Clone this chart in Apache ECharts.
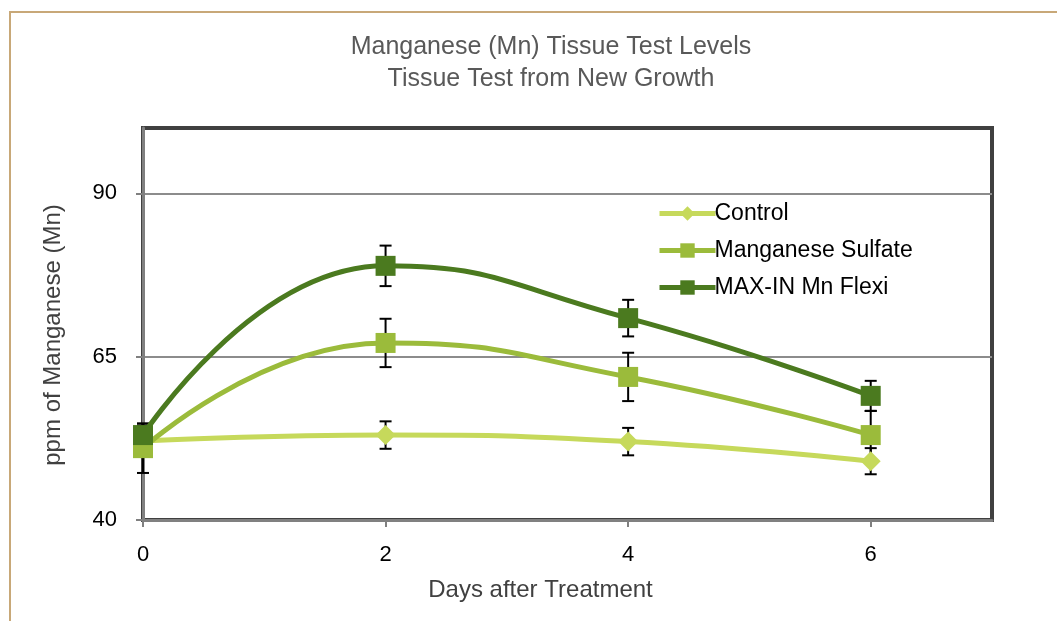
<!DOCTYPE html>
<html>
<head>
    <meta charset="utf-8">
    <title>Manganese (Mn) Tissue Test Levels</title>
    <script src="https://cdn.jsdelivr.net/npm/echarts@6/dist/echarts.min.js"></script>
    <style>
        html, body { margin: 0; padding: 0; background: #fff; }
        #chart { width: 1057px; height: 621px; }
    </style>
</head>
<body>
<div id="chart"></div>
<script>
    // 数据
    var days = [0, 2, 4, 6];
    var controlVals = [52.1, 53.0, 52.0, 49.0];
    var controlErr = [2.0, 2.1, 2.1, 2.0];
    var sulfateVals = [51.0, 67.1, 61.9, 53.0];
    var sulfateErr = [3.8, 3.7, 3.7, 3.7];
    var flexiVals = [53.0, 78.9, 70.9, 59.0];
    var flexiErr = [1.5, 3.1, 2.8, 2.3];
    var xTicks = [0, 2, 4, 6];
    var yTicks = [40, 65, 90];

    var font = 'Liberation Sans';
    var colors = ['#c6d95b', '#9bbb3b', '#4b7a1f'];

    function pairs(vals) {
        return days.map(function (d, i) { return [d, vals[i]]; });
    }
    function errData(vals, errs) {
        return days.map(function (d, i) { return [d, vals[i] - errs[i], vals[i] + errs[i]]; });
    }

    // 误差线
    function renderErr(params, api) {
        var x = api.value(0);
        var lo = api.coord([x, api.value(1)]);
        var hi = api.coord([x, api.value(2)]);
        var w = 6;
        var style = { stroke: '#000', lineWidth: 2 };
        return {
            type: 'group',
            children: [
                { type: 'line', shape: { x1: hi[0], y1: hi[1], x2: lo[0], y2: lo[1] }, style: style },
                { type: 'line', shape: { x1: hi[0] - w, y1: hi[1], x2: hi[0] + w, y2: hi[1] }, style: style },
                { type: 'line', shape: { x1: lo[0] - w, y1: lo[1], x2: lo[0] + w, y2: lo[1] }, style: style }
            ]
        };
    }

    function lineSeries(name, vals, color, symbol, size) {
        return {
            name: name,
            type: 'line',
            smooth: 0.5,
            z: 3,
            data: pairs(vals),
            symbol: symbol,
            symbolSize: size,
            showAllSymbol: true,
            lineStyle: { color: color, width: 5 },
            itemStyle: { color: color, borderWidth: 0 }
        };
    }
    function errSeries(vals, errs) {
        return {
            type: 'custom',
            z: 2,
            silent: true,
            renderItem: renderErr,
            data: errData(vals, errs)
        };
    }

    var chart = echarts.init(document.getElementById('chart'));
    var option = {
        animation: false,
        backgroundColor: '#fff',
        title: {
            text: 'Manganese (Mn) Tissue Test Levels\nTissue Test from New Growth',
            left: 546,
            top: 26,
            textAlign: 'center',
            textStyle: { fontFamily: font, fontSize: 25, fontWeight: 'normal', color: '#595959', lineHeight: 32 }
        },
        graphic: [{
            type: 'rect',
            shape: { x: 10, y: 12, width: 1100, height: 700 },
            style: { fill: null, stroke: '#c8a878', lineWidth: 2 },
            z: -1
        }],
        legend: {
            orient: 'vertical',
            left: 652,
            top: 197,
            itemWidth: 56,
            itemHeight: 18,
            itemGap: 14,
            data: ['Control', 'Manganese Sulfate', 'MAX-IN Mn Flexi'],
            lineStyle: { width: 5 },
            textStyle: { fontFamily: font, fontSize: 23, color: '#000', padding: [0, 0, 0, -6] }
        },
        grid: {
            left: 143,
            right: 65,
            top: 128,
            bottom: 101,
            show: true,
            borderColor: '#404040',
            borderWidth: 4,
            containLabel: false,
            outerBoundsMode: 'none'
        },
        xAxis: {
            type: 'value',
            min: 0,
            max: 7,
            interval: 2,
            name: 'Days after Treatment',
            nameLocation: 'middle',
            nameGap: 58,
            nameTextStyle: { fontFamily: font, fontSize: 24, color: '#404040', padding: [0, 54, 0, 0] },
            axisLine: { show: true, lineStyle: { color: '#808080', width: 3 } },
            axisTick: { show: true, length: 7, customValues: xTicks, lineStyle: { color: '#808080', width: 2 } },
            axisLabel: { customValues: xTicks, margin: 24, fontFamily: font, fontSize: 22, color: '#000' },
            splitLine: { show: false }
        },
        yAxis: {
            type: 'value',
            min: 40,
            max: 100,
            interval: 25,
            name: 'ppm of Manganese (Mn)',
            nameLocation: 'middle',
            nameGap: 78,
            nameTextStyle: { fontFamily: font, fontSize: 24, color: '#404040', padding: [0, 22, 0, 0] },
            axisLine: { show: true, lineStyle: { color: '#808080', width: 3 } },
            axisTick: { show: true, length: 7, customValues: yTicks, lineStyle: { color: '#808080', width: 2 } },
            axisLabel: { customValues: yTicks, margin: 26, fontFamily: font, fontSize: 22, color: '#000' },
            splitLine: { show: true, lineStyle: { color: '#8c8c8c', width: 2 } }
        },
        series: [
            errSeries(controlVals, controlErr),
            errSeries(sulfateVals, sulfateErr),
            errSeries(flexiVals, flexiErr),
            lineSeries('Control', controlVals, colors[0], 'diamond', 20),
            lineSeries('Manganese Sulfate', sulfateVals, colors[1], 'rect', 20),
            lineSeries('MAX-IN Mn Flexi', flexiVals, colors[2], 'rect', 20)
        ]
    };
    chart.setOption(option);

    window.onresize = function () {
        chart.resize();
    };
</script>
</body>
</html>
